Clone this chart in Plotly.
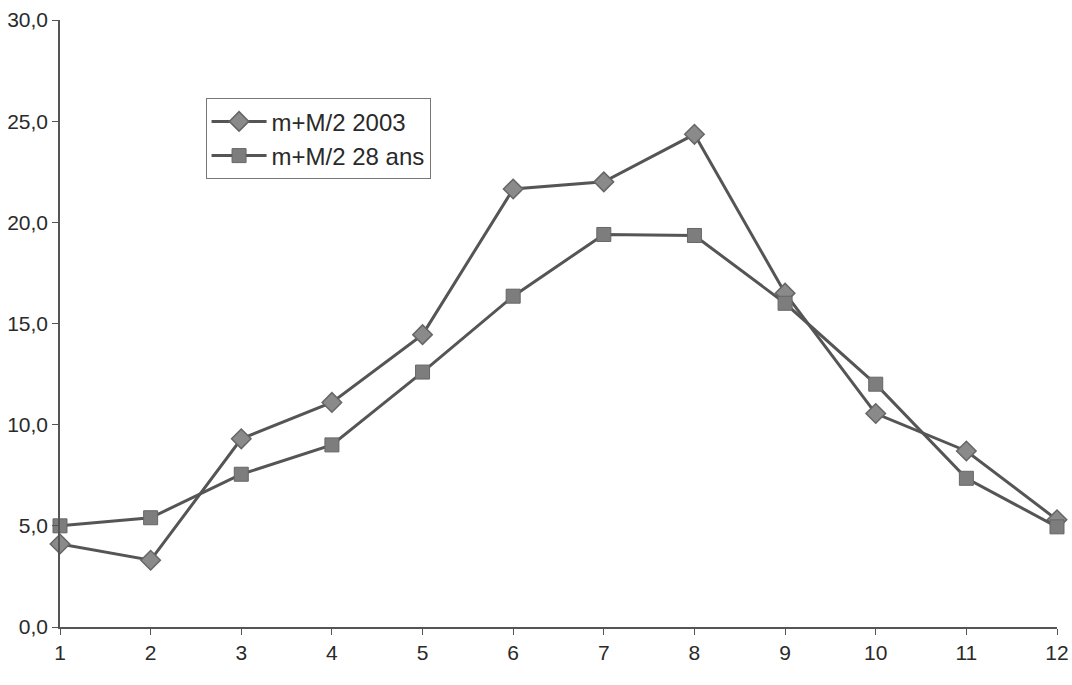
import plotly.graph_objects as go

months = [1, 2, 3, 4, 5, 6, 7, 8, 9, 10, 11, 12]
serie_2003 = [4.1, 3.3, 9.3, 11.1, 14.45, 21.65, 22.0, 24.35, 16.5, 10.55, 8.7, 5.3]
serie_28ans = [5.0, 5.4, 7.55, 9.0, 12.6, 16.35, 19.4, 19.35, 16.0, 12.0, 7.35, 4.95]
names = ["m+M/2 2003", "m+M/2 28 ans"]
y_ticks = [0, 5, 10, 15, 20, 25, 30]

line_col = "#555555"
fig = go.Figure()
fig.add_trace(go.Scatter(
    x=months, y=serie_2003, name=names[0], mode="lines+markers",
    line=dict(color=line_col, width=3),
    marker=dict(symbol="diamond", size=15, color="#8a8a8a",
                line=dict(color="#666666", width=1.5)),
    cliponaxis=False,
))
fig.add_trace(go.Scatter(
    x=months, y=serie_28ans, name=names[1], mode="lines+markers",
    line=dict(color=line_col, width=3),
    marker=dict(symbol="square", size=14, color="#7d7d7d",
                line=dict(color="#666666", width=1)),
    cliponaxis=False,
))

font = "Liberation Sans, Arial, sans-serif"
fig.update_layout(
    width=1072, height=685,
    margin=dict(l=60, r=15, t=20, b=58),
    paper_bgcolor="white", plot_bgcolor="white",
    separators=",.",
    font=dict(family=font, size=20, color="#2a2a2a"),
    showlegend=True,
    legend=dict(
        x=0.146, y=0.871, xanchor="left", yanchor="top",
        bgcolor="white", bordercolor="#777777", borderwidth=1,
        font=dict(size=24, color="#2a2a2a"),
        tracegroupgap=2, itemwidth=55,
    ),
    xaxis=dict(
        range=[1, 12], tickmode="array", tickvals=months,
        showline=True, linecolor="#555555", linewidth=1.5,
        ticks="outside", ticklen=6, tickcolor="#555555",
        showgrid=False, zeroline=False, automargin=False,
        tickfont=dict(size=21, color="#2a2a2a"),
    ),
    yaxis=dict(
        range=[0, 30], tickmode="array", tickvals=y_ticks,
        tickformat=".1f",
        showline=True, linecolor="#555555", linewidth=1.5,
        ticks="outside", ticklen=6, tickcolor="#555555",
        showgrid=False, zeroline=False, automargin=False,
        tickfont=dict(size=21, color="#2a2a2a"),
    ),
)

fig.write_html("out.html")
